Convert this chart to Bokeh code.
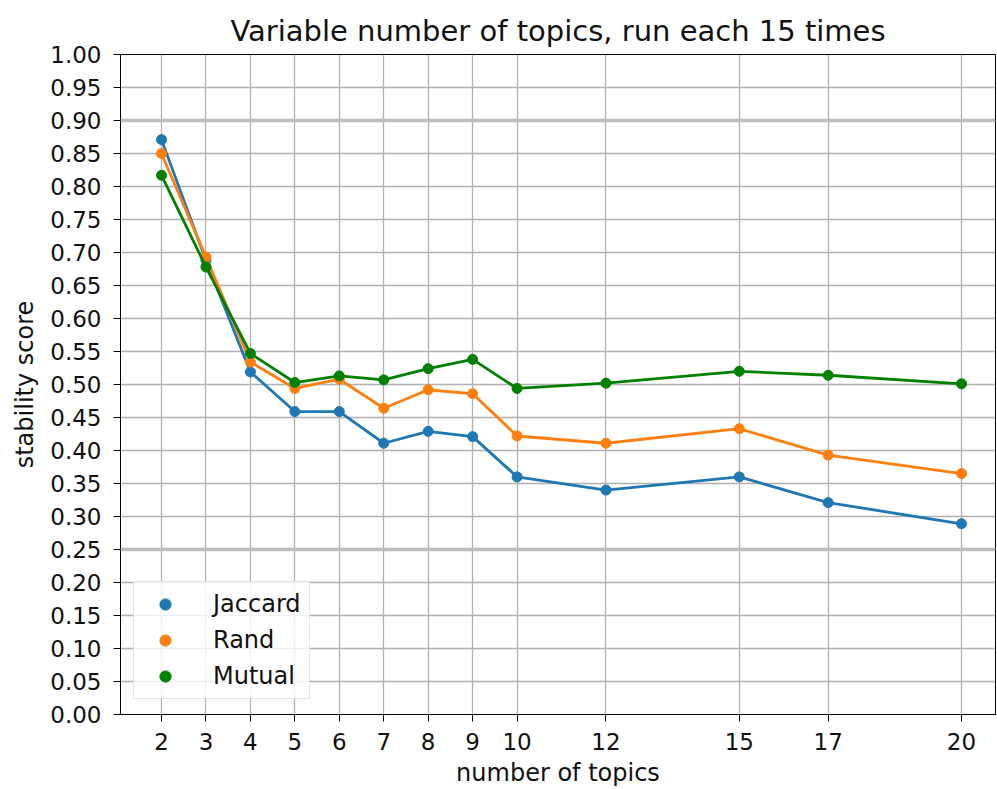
from bokeh.plotting import figure
from bokeh.models import FixedTicker, Span, Legend, LegendItem, PrintfTickFormatter, Range1d
from bokeh.embed import file_html
from bokeh.resources import INLINE

topics = [2, 3, 4, 5, 6, 7, 8, 9, 10, 12, 15, 17, 20]
jaccard = [0.871, 0.688, 0.519, 0.459, 0.459, 0.411, 0.429, 0.421, 0.360, 0.340, 0.360, 0.321, 0.289]
rand = [0.850, 0.693, 0.534, 0.494, 0.508, 0.464, 0.492, 0.486, 0.422, 0.411, 0.433, 0.393, 0.365]
mutual = [0.817, 0.678, 0.547, 0.503, 0.513, 0.507, 0.524, 0.538, 0.494, 0.502, 0.520, 0.514, 0.501]
names = ["Jaccard", "Rand", "Mutual"]
colors = ["#1f77b4", "#ff7f0e", "#008000"]
y_ticks = [round(i * 0.05, 2) for i in range(21)]
hlines = [0.90, 0.25]

FONT = "DejaVu Sans"

p = figure(width=997, height=789, output_backend="svg", toolbar_location=None,
           x_range=Range1d(1.077, 20.765), y_range=Range1d(0, 1),
           title="Variable number of topics, run each 15 times",
           min_border_left=120, min_border_top=54, min_border_bottom=74, min_border_right=2)

p.title.align = "center"
p.title.text_font = FONT
p.title.text_font_size = "29px"
p.title.text_font_style = "normal"
p.title.text_color = "#111111"
p.title.standoff = 13

for ax, lab in ((p.xaxis[0], "number of topics"), (p.yaxis[0], "stability score")):
    ax.axis_label = lab
    ax.axis_label_text_font = FONT
    ax.axis_label_text_font_size = "24px"
    ax.axis_label_text_font_style = "normal"
    ax.axis_label_text_color = "#111111"
    ax.major_label_text_font = FONT
    ax.major_label_text_font_size = "23px"
    ax.major_label_text_color = "#111111"
    ax.minor_tick_line_color = None
    ax.major_tick_out = 7
    ax.major_tick_in = 0
    ax.axis_line_color = "black"
    ax.major_tick_line_color = "black"

p.xaxis[0].major_label_standoff = 11
p.xaxis[0].axis_label_standoff = 6
p.yaxis[0].major_label_standoff = 12
p.yaxis[0].axis_label_standoff = 8

p.xaxis[0].ticker = FixedTicker(ticks=topics)
p.yaxis[0].ticker = FixedTicker(ticks=y_ticks)
p.yaxis[0].formatter = PrintfTickFormatter(format="%.2f")

p.xgrid.grid_line_color = "#b0b0b0"
p.ygrid.grid_line_color = "#b0b0b0"
p.xgrid.grid_line_width = 1.3
p.ygrid.grid_line_width = 1.3
p.outline_line_color = "black"
p.outline_line_width = 1

for h in hlines:
    p.add_layout(Span(location=h, dimension="width", line_color="#bdbdbd", line_width=3.5))

items = []
for name, ys, c in zip(names, [jaccard, rand, mutual], colors):
    p.line(topics, ys, line_color=c, line_width=2.8)
    r = p.scatter(topics, ys, size=10, fill_color=c, line_color=c)
    items.append(LegendItem(label=name, renderers=[r]))

legend = Legend(items=items, location=(13, 15), label_text_font=FONT, label_text_font_size="24px",
                glyph_width=46, glyph_height=28, label_height=28, spacing=8, padding=8,
                label_standoff=25, border_line_color="#cccccc", background_fill_alpha=0.8,
                label_text_color="#111111", margin=0)
p.add_layout(legend)

open("out.html", "w").write(file_html(p, INLINE))
